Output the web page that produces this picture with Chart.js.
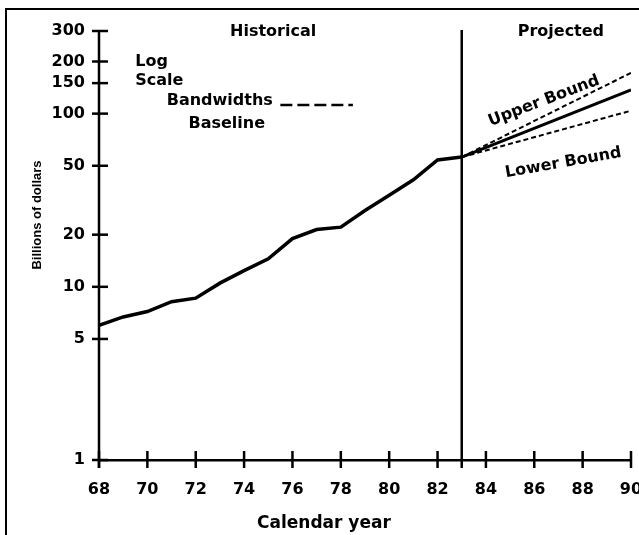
<!DOCTYPE html>
<html>
<head>
<meta charset="utf-8">
<script src="https://cdn.jsdelivr.net/npm/chart.js@4.4.1/dist/chart.umd.min.js"></script>
<style>
  body { margin: 0; background: #fff; }
  #wrap { position: relative; width: 639px; height: 535px; overflow: hidden; }
  #frame { position: absolute; left: 5px; top: 8px; width: 700px; height: 600px;
           border-left: 2px solid #000; border-top: 2px solid #000; }
  canvas { position: absolute; left: 0; top: 0; }
</style>
</head>
<body>
<div id="wrap">
  <div id="frame"></div>
  <canvas id="c" width="639" height="535"></canvas>
</div>
<script>
// historical series (billions of dollars, log scale)
const years      = [68, 69, 70, 71, 72, 73, 74, 75, 76, 77, 78, 79, 80, 81, 82, 83];
const historical = [6.0, 6.7, 7.2, 8.2, 8.6, 10.5, 12.4, 14.5, 19.0, 21.4, 22.1, 27.6, 33.8, 41.5, 54.0, 56.1];

// projections 83 -> 90
const projYears  = [83, 90];
const baseline   = [56.1, 137];
const upperBound = [56.1, 172];
const lowerBound = [56.1, 104];

const xTickValues = [68, 70, 72, 74, 76, 78, 80, 82, 84, 86, 88, 90];
const yTickValues = [1, 5, 10, 20, 50, 100, 150, 200, 300];

const FONT = { family: "'DejaVu Sans', sans-serif", size: 16, weight: "bold" };
const INK = "#000";

const pts = (xs, ys) => xs.map((x, i) => ({ x, y: ys[i] }));

// tick marks crossing the axes, the 1983 divider, axis titles and text notes
const decor = {
  id: "decor",
  afterDraw(chart) {
    const { ctx, chartArea: ca, scales: { x, y } } = chart;
    const line = (x1, y1, x2, y2) => { ctx.beginPath(); ctx.moveTo(x1, y1); ctx.lineTo(x2, y2); ctx.stroke(); };
    ctx.save();
    ctx.strokeStyle = INK;
    ctx.lineWidth = 2.5;
    yTickValues.forEach((v) => { const py = y.getPixelForValue(v); line(ca.left - 7, py, ca.left + 9, py); });
    xTickValues.forEach((v) => { const px = x.getPixelForValue(v); line(px, ca.bottom - 9, px, ca.bottom + 8); });
    line(ca.left, ca.top, ca.left, ca.bottom + 8);
    const px83 = x.getPixelForValue(projYears[0]);
    line(px83, ca.top - 1, px83, ca.bottom + 8);

    ctx.fillStyle = INK;
    ctx.font = `${FONT.weight} ${FONT.size}px ${FONT.family}`;
    ctx.textBaseline = "middle";
    ctx.textAlign = "center";
    ctx.fillText("Historical", x.getPixelForValue(75.2), ca.top + 1);
    ctx.fillText("Projected", x.getPixelForValue(87.1), ca.top + 1);
    ctx.textAlign = "left";
    ctx.fillText("Log", x.getPixelForValue(69.5), ca.top + 31);
    ctx.fillText("Scale", x.getPixelForValue(69.5), ca.top + 50);
    ctx.fillText("Bandwidths", x.getPixelForValue(70.8), ca.top + 70);
    ctx.fillText("Baseline", x.getPixelForValue(71.7), ca.top + 93);

    ctx.setLineDash([12, 5]);
    line(x.getPixelForValue(75.5), ca.top + 74, x.getPixelForValue(78.5), ca.top + 74);
    ctx.setLineDash([]);

    const rotText = (t, px, py, deg) => {
      ctx.save();
      ctx.translate(px, py);
      ctx.rotate(deg * Math.PI / 180);
      ctx.textAlign = "center";
      ctx.fillText(t, 0, 0);
      ctx.restore();
    };
    rotText("Upper Bound", x.getPixelForValue(86.4), ca.top + 70, -21);
    rotText("Lower Bound", x.getPixelForValue(87.2), ca.top + 132, -10);

    // axis titles
    ctx.font = `bold 17px ${FONT.family}`;
    ctx.textAlign = "center";
    ctx.fillText("Calendar year", x.getPixelForValue(77.3), ca.bottom + 64);
    ctx.font = "bold 13px 'Liberation Sans', sans-serif";
    rotText("Billions of dollars", 37, ca.top + 184, -90);
    ctx.restore();
  },
};

new Chart(document.getElementById("c"), {
  type: "line",
  data: {
    datasets: [
      { label: "Historical", data: pts(years, historical), borderColor: INK, borderWidth: 3.5, pointRadius: 0, tension: 0 },
      { label: "Baseline", data: pts(projYears, baseline), borderColor: INK, borderWidth: 3, pointRadius: 0 },
      { label: "Upper Bound", data: pts(projYears, upperBound), borderColor: INK, borderWidth: 2, borderDash: [5, 3], pointRadius: 0 },
      { label: "Lower Bound", data: pts(projYears, lowerBound), borderColor: INK, borderWidth: 2, borderDash: [5, 3], pointRadius: 0 },
    ],
  },
  options: {
    responsive: false,
    animation: false,
    layout: { padding: { left: 0, right: 8, top: 31, bottom: 0 } },
    plugins: { legend: { display: false }, tooltip: { enabled: false } },
    scales: {
      x: {
        type: "linear", min: 68, max: 90,
        afterBuildTicks: (s) => { s.ticks = xTickValues.map((v) => ({ value: v })); },
        afterFit: (s) => { s.height = 75; s.paddingLeft = 0; s.paddingRight = 0; },
        grid: { display: true, drawOnChartArea: false, drawTicks: true, tickLength: 8, color: "rgba(0,0,0,0)" },
        border: { display: true, color: INK, width: 2.5 },
        ticks: { color: INK, font: FONT, padding: 12, maxRotation: 0, autoSkip: false },
      },
      y: {
        type: "logarithmic", min: 1, max: 300,
        afterBuildTicks: (s) => { s.ticks = yTickValues.map((v) => ({ value: v })); },
        afterFit: (s) => { s.width = 99; s.paddingTop = 0; s.paddingBottom = 0; },
        grid: { display: true, drawOnChartArea: false, drawTicks: true, tickLength: 7, color: "rgba(0,0,0,0)" },
        border: { display: false },
        ticks: { color: INK, font: FONT, padding: 7, autoSkip: false, callback: (v) => String(v) },
      },
    },
  },
  plugins: [decor],
});
</script>
</body>
</html>
